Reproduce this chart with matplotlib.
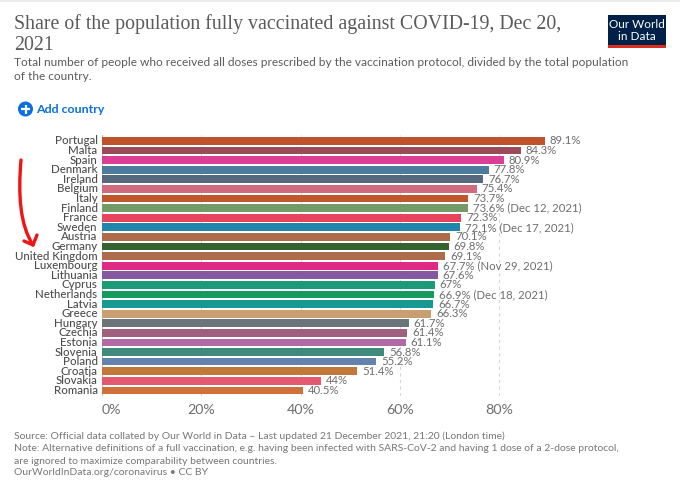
"""Share of the population fully vaccinated against COVID-19, Dec 20, 2021."""
import matplotlib
matplotlib.use('Agg')
import matplotlib.pyplot as plt
from matplotlib.patches import Circle, PathPatch, Rectangle
from matplotlib.path import Path

W, H = 680, 483
GREY = '#5b5b5b'
LABEL_GREY = '#6e6e6e'

countries = ['Portugal', 'Malta', 'Spain', 'Denmark', 'Ireland', 'Belgium', 'Italy',
             'Finland', 'France', 'Sweden', 'Austria', 'Germany', 'United Kingdom',
             'Luxembourg', 'Lithuania', 'Cyprus', 'Netherlands', 'Latvia', 'Greece',
             'Hungary', 'Czechia', 'Estonia', 'Slovenia', 'Poland', 'Croatia',
             'Slovakia', 'Romania']
values = [89.1, 84.3, 80.9, 77.8, 76.7, 75.4, 73.7, 73.6, 72.3, 72.1, 70.1, 69.8, 69.1,
          67.7, 67.6, 67, 66.9, 66.7, 66.3, 61.7, 61.4, 61.1, 56.8, 55.2, 51.4, 44, 40.5]
date_notes = {'Finland': ' (Dec 12, 2021)', 'Sweden': ' (Dec 17, 2021)',
              'Luxembourg': ' (Nov 29, 2021)', 'Netherlands': ' (Dec 18, 2021)'}
colors = ['#c0522b', '#9a4a58', '#dc3e96', '#4d7b9e', '#56697f', '#d06b7d', '#c0562c',
          '#749a68', '#e8435e', '#2186ab', '#ae6c4b', '#36622f', '#ad6c4a',
          '#df2a84', '#85589f', '#1b9b78', '#159a5f', '#149a90', '#c99e70',
          '#6c747b', '#a05f7c', '#b16aa6', '#408a7d', '#6482ae', '#c27838',
          '#e35a70', '#d0703a']
x_ticks = [0, 20, 40, 60, 80]
arrow_x = [21, 18, 20, 33]
arrow_y = [160, 195, 225, 245]

plt.rcParams['font.family'] = ['Lato', 'DejaVu Sans']
fig = plt.figure(figsize=(W / 100, H / 100), dpi=100, facecolor='white')

# chart area: 0% sits at x=102, one percent is about 4.97 px
ax = fig.add_axes([102 / W, 1 - 396 / H, 538 / W, 261 / H])
ax.set_xlim(0, 538 / 4.968)
ax.set_ylim(len(countries) - 1 + 0.58, -0.62)
ax.barh(range(len(countries)), values, height=0.8, color=colors, zorder=2)
for v in x_ticks[1:]:
    ax.axvline(v, color='#d8d8d8', lw=0.8, ls=(0, (3, 3)), zorder=1)
ax.axvline(0, color='#c8c8c8', lw=1, zorder=1)
for i, (name, val) in enumerate(zip(countries, values)):
    ax.text(val + 1, i, f'{val:g}%' + date_notes.get(name, ''), ha='left', va='center',
            fontsize=8.2, color=LABEL_GREY)
    ax.text(-0.9, i, name, ha='right', va='center', fontsize=8.3, color='#4e4e4e',
            fontweight='medium')
for s in ax.spines.values():
    s.set_visible(False)
ax.set_yticks([])
ax.set_xticks(x_ticks)
ax.set_xticklabels([f'{v}%' for v in x_ticks], fontsize=10.3, color=LABEL_GREY)
ax.get_xticklabels()[0].set_ha('left')
ax.tick_params(axis='x', length=0, pad=6)

# overlay in pixel coordinates for the header, footer and hand drawn arrow
ov = fig.add_axes([0, 0, 1, 1], zorder=5)
ov.set_xlim(0, W)
ov.set_ylim(H, 0)
ov.axis('off')
ov.add_patch(Rectangle((0, 0), W, 1.5, color='#ececec', lw=0))

ov.text(14, 24, 'Share of the population fully vaccinated against COVID-19, Dec 20,',
        family='Liberation Serif', fontsize=14.3, color=GREY, va='center')
ov.text(14, 45, '2021', family='Liberation Serif', fontsize=14.3, color=GREY, va='center')
ov.text(14, 63, 'Total number of people who received all doses prescribed by the vaccination'
        ' protocol, divided by the total population', fontsize=8.56, color=GREY, va='center')
ov.text(14, 77, 'of the country.', fontsize=8.56, color=GREY, va='center')

ov.add_patch(Rectangle((608, 15), 58, 33, color='#002147', lw=0))
ov.add_patch(Rectangle((608, 45), 58, 3, color='#dc2e1f', lw=0))
ov.text(637, 24.5, 'Our World', color='white', fontsize=8.5, ha='center', va='center')
ov.text(637, 37, 'in Data', color='white', fontsize=8.5, ha='center', va='center')

ov.add_patch(Circle((25.5, 109), 7.5, color='#0a6fe0', lw=0))
ov.plot([21, 30], [109, 109], color='white', lw=1.6, solid_capstyle='butt')
ov.plot([25.5, 25.5], [104.5, 113.5], color='white', lw=1.6, solid_capstyle='butt')
ov.text(36, 109.5, 'Add country', color='#0a6fe0', fontsize=8.95, fontweight='bold', va='center')

foot = ['Source: Official data collated by Our World in Data \u2013 Last updated 21 December 2021, 21:20 (London time)',
        'Note: Alternative definitions of a full vaccination, e.g. having been infected with SARS-CoV-2 and having 1 dose of a 2-dose protocol,',
        'are ignored to maximize comparability between countries.',
        'OurWorldInData.org/coronavirus \u2022 CC BY']
for y, line in zip([436, 448.5, 461, 472.5], foot):
    ov.text(14, y, line, fontsize=7.49, color='#777777', va='center')

# red arrow
ov.add_patch(PathPatch(Path(list(zip(arrow_x, arrow_y)), [Path.MOVETO, Path.CURVE4, Path.CURVE4, Path.CURVE4]),
                       fc='none', ec='#f01414', lw=2.4, capstyle='round'))
ov.plot([24, 33, 37], [241, 245, 235], color='#f01414', lw=2.4, solid_joinstyle='round',
        solid_capstyle='round')

fig.savefig('out.png', dpi=100)
